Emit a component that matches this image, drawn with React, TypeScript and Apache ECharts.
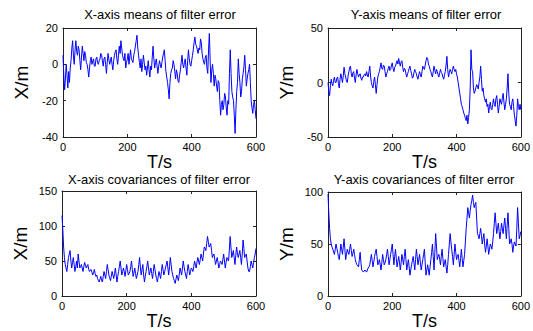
import React, { useEffect, useRef } from "react";
import * as echarts from "echarts";

// time step between samples (s)
const timeStep = 2.5;

const xMeans = [
  5, -6, -14, -8, 0, -6, -13, -4, -10, -2, 2, 9, 13, 4, 0, 8, 13, 7, 5, 10,
  8, 2, -3, 4, 10, 6, 2, 7, 5, 1, 0, -3, -7, -2, 2, 4, 0, 2, 3, -1,
  -1, 3, 4, 1, 0, 2, 3, 6, 5, 2, -1, 3, 4, 0, -5, 1, 6, 3, 0, 2,
  4, 0, -3, 2, 5, 7, 8, 3, 0, 5, 10, 6, 13, 9, 5, 3, 2, 6, -2, 1,
  3, 6, 0, 4, 8, 3, 2, 1, 5, 7, 10, 13, 16, 9, 5, 1, -2, 3, -4, 0,
  5, 1, -3, -1, -6, -2, 2, -3, -7, -1, -3, 4, 10, 3, -2, 1, 3, -1, -5, -1,
  2, 0, -2, 1, 4, 6, 8, 2, -4, -7, -10, -14, -19, -10, -5, -3, -2, 2, 0, -4,
  -8, -3, -5, -9, -10, -6, -3, 1, 5, 0, -2, 1, 3, -2, -6, 2, 8, 3, 0, -1,
  2, 5, 8, 12, 15, 11, 10, 8, 6, 9, 8, 14, 12, 6, 3, 1, 0, 4, 5, -2,
  -5, 8, 17, 2, -10, -3, 0, -5, -12, -6, -8, -12, -15, -9, -10, -20, -28, -22, -20, -25,
  -22, -16, -18, -24, -28, -20, -22, -5, 8, -5, -15, -18, -20, -28, -38, -25, -15, -10, 3, -5,
  -10, -18, -15, -8, -5, -1, 5, -3, -12, -8, -5, -3, 0, -10, -20, -24, -27, -22, -20, -25,
  -30,
];

const yMeans = [
  0, -8, -12, -3, 3, -1, -3, 2, 5, 0, 0, 4, 5, -1, -5, 3, 8, 4, 0, 6,
  14, 8, 5, 1, 0, 6, 10, 14, 15, 8, 5, 9, 10, 4, 0, 7, 12, 8, 5, 7,
  8, 4, 2, 5, 5, 7, 8, 6, 10, 7, 5, 10, 15, 6, 0, -3, -5, 1, 5, -2,
  -10, -2, 5, 8, 10, 14, 18, 13, 12, 16, 15, 10, 5, 8, 10, 13, 15, 11, 12, 16,
  18, 13, 10, 14, 15, 18, 20, 17, 22, 18, 15, 19, 20, 14, 10, 13, 12, 8, 5, 8,
  10, 13, 15, 11, 8, 4, 5, 9, 12, 10, 8, 5, 3, 7, 10, 7, 5, 10, 15, 13,
  12, 16, 20, 23, 22, 17, 15, 12, 10, 7, 5, 10, 15, 11, 8, 12, 10, 7, 5, 9,
  12, 9, 8, 5, 3, 7, 10, 16, 24, 12, 5, 9, 12, 10, 8, 12, 15, 12, 10, 12,
  8, 5, 0, -5, -10, -15, -20, -22, -25, -28, -30, -33, -35, -30, -38, -32, -25, -5, 30, 12,
  10, -5, -10, -8, -5, -2, -3, -6, 0, 5, 15, 3, -8, -5, -12, -15, -18, -15, -22, -20,
  -28, -22, -18, -24, -25, -20, -15, -20, -22, -15, -12, -20, -28, -22, -15, -18, -20, -14, -10, -18,
  -25, -20, -15, -5, 8, -10, -20, -22, -25, -18, -15, -22, -30, -35, -40, -30, -15, -22, -25, -20,
  -25,
];

const xCovs = [
  115, 95, 70, 55, 45, 40, 35, 45, 55, 60, 65, 50, 40, 48, 55, 45, 35, 42, 50, 40,
  60, 50, 40, 42, 45, 40, 35, 42, 48, 44, 40, 43, 45, 38, 35, 37, 38, 34, 30, 33,
  38, 32, 28, 30, 25, 22, 20, 24, 28, 22, 20, 28, 35, 30, 25, 35, 45, 38, 30, 26,
  22, 28, 35, 30, 25, 32, 40, 30, 20, 28, 35, 42, 50, 40, 30, 35, 40, 35, 28, 36,
  45, 38, 30, 32, 35, 42, 50, 38, 28, 33, 40, 32, 25, 30, 35, 45, 55, 40, 30, 38,
  45, 30, 20, 28, 35, 42, 50, 40, 30, 35, 40, 32, 25, 35, 45, 38, 30, 25, 20, 28,
  35, 30, 25, 35, 45, 38, 30, 35, 40, 45, 50, 40, 30, 42, 55, 45, 35, 30, 25, 22,
  18, 24, 30, 26, 22, 30, 40, 35, 30, 40, 50, 42, 35, 30, 25, 35, 45, 38, 30, 35,
  40, 38, 35, 42, 50, 45, 40, 48, 55, 50, 45, 52, 60, 55, 50, 60, 70, 68, 65, 75,
  85, 78, 70, 72, 75, 65, 55, 58, 60, 52, 45, 50, 55, 48, 40, 45, 50, 48, 45, 52,
  60, 50, 40, 48, 55, 52, 50, 65, 85, 70, 55, 60, 65, 55, 45, 58, 70, 62, 55, 60,
  65, 55, 45, 60, 80, 68, 55, 58, 60, 50, 40, 35, 35, 42, 50, 45, 40, 48, 55, 60,
  68,
];

const yCovs = [
  98, 80, 65, 55, 50, 47, 45, 42, 40, 45, 50, 46, 42, 38, 35, 42, 50, 45, 40, 47,
  55, 45, 35, 40, 45, 42, 40, 45, 50, 44, 38, 41, 45, 40, 35, 32, 30, 29, 28, 35,
  42, 32, 25, 24, 23, 24, 25, 24, 23, 25, 27, 28, 30, 35, 40, 34, 28, 33, 38, 42,
  45, 38, 30, 32, 35, 30, 25, 32, 40, 35, 30, 32, 35, 40, 45, 38, 30, 35, 40, 45,
  50, 40, 30, 38, 45, 36, 28, 33, 38, 32, 25, 32, 40, 35, 30, 38, 45, 35, 25, 30,
  35, 28, 20, 25, 30, 34, 38, 32, 25, 35, 45, 38, 30, 35, 40, 32, 25, 30, 35, 40,
  45, 32, 20, 25, 30, 25, 20, 28, 35, 42, 50, 38, 25, 42, 60, 48, 35, 38, 40, 35,
  30, 38, 45, 36, 28, 32, 35, 28, 22, 30, 40, 50, 60, 52, 45, 38, 30, 40, 50, 42,
  35, 38, 40, 34, 28, 36, 45, 36, 28, 34, 40, 52, 65, 75, 85, 80, 75, 82, 88, 92,
  97, 90, 85, 88, 90, 75, 60, 58, 55, 60, 65, 58, 50, 55, 60, 50, 42, 48, 55, 48,
  40, 45, 50, 48, 45, 52, 60, 70, 80, 70, 60, 65, 70, 62, 55, 62, 70, 65, 60, 68,
  75, 65, 55, 68, 80, 65, 50, 52, 55, 50, 42, 48, 52, 50, 48, 65, 85, 70, 55, 58,
  62,
];

const titles = [
  "X-axis means of filter error",
  "Y-axis means of filter error",
  "X-axis covariances of filter error",
  "Y-axis covariances of filter error",
];
const yNames = ["X/m", "Y/m", "X/m", "Y/m"];
const xName = "T/s";
const yRanges = [
  { min: -40, max: 20, interval: 20 },
  { min: -50, max: 50, interval: 50 },
  { min: 0, max: 150, interval: 50 },
  { min: 0, max: 100, interval: 50 },
];
const seriesValues = [xMeans, yMeans, xCovs, yCovs];

const grids = [
  { left: 63, top: 28, width: 193, height: 109 },
  { left: 328, top: 28, width: 194, height: 109 },
  { left: 62, top: 191, width: 194, height: 111 },
  { left: 328, top: 192, width: 194, height: 110 },
];
const titlePos = [
  { x: 160, y: 15 },
  { x: 426, y: 15 },
  { x: 159, y: 180 },
  { x: 424, y: 180 },
];

const FONT = "'Liberation Sans', Arial, Helvetica, sans-serif";

export default function App() {
  const ref = useRef<HTMLDivElement>(null);
  useEffect(() => {
    if (!ref.current) return;
    const chart = echarts.init(ref.current, undefined, { renderer: "svg" });
    const xAxes: any[] = [];
    const yAxes: any[] = [];
    const series: any[] = [];
    const axisLine = { show: true, onZero: false, lineStyle: { color: "#222", width: 1 } };
    const axisTick = { show: true, inside: true, length: 3, lineStyle: { color: "#222" } };
    grids.forEach((g, i) => {
      xAxes.push({
        type: "value", gridIndex: i, position: "bottom", min: 0, max: 600, interval: 200,
        axisLine, axisTick,
        axisLabel: { fontSize: 11, color: "#000", margin: 4, fontFamily: FONT },
        splitLine: { show: false },
        name: xName, nameLocation: "middle", nameGap: 16,
        nameTextStyle: { fontSize: 18, color: "#000", fontFamily: FONT },
      });
      xAxes.push({
        type: "value", gridIndex: i, position: "top", min: 0, max: 600, interval: 200,
        axisLine, axisTick, axisLabel: { show: false }, splitLine: { show: false },
      });
      const r = yRanges[i];
      yAxes.push({
        type: "value", gridIndex: i, position: "left", min: r.min, max: r.max, interval: r.interval,
        axisLine, axisTick,
        axisLabel: { fontSize: 11, color: "#000", margin: 5, fontFamily: FONT },
        splitLine: { show: false },
        name: yNames[i], nameLocation: "middle", nameGap: 32,
        nameTextStyle: { fontSize: 19, color: "#000", fontFamily: FONT },
      });
      yAxes.push({
        type: "value", gridIndex: i, position: "right", min: r.min, max: r.max, interval: r.interval,
        axisLine, axisTick, axisLabel: { show: false }, splitLine: { show: false },
      });
      series.push({
        type: "line",
        xAxisIndex: 2 * i,
        yAxisIndex: 2 * i,
        data: seriesValues[i].map((v, k) => [k * timeStep, v]),
        showSymbol: false,
        symbol: "none",
        lineStyle: { color: "#0000ff", width: 1 },
        itemStyle: { color: "#0000ff" },
      });
    });
    chart.setOption({
      animation: false,
      backgroundColor: "#fff",
      grid: grids.map((g) => ({ ...g, containLabel: false })),
      xAxis: xAxes,
      yAxis: yAxes,
      series,
      graphic: titles.map((t, i) => ({
        type: "text",
        x: titlePos[i].x,
        y: titlePos[i].y,
        scaleX: 1.08,
        style: {
          text: t,
          fontSize: 12,
          fontFamily: FONT,
          fill: "#000",
          textAlign: "center",
          textVerticalAlign: "middle",
        },
      })),
    });
    return () => chart.dispose();
  }, []);
  return (
    <div
      ref={ref}
      style={{ position: "fixed", left: 0, top: 0, width: 533, height: 331, background: "#fff" }}
    />
  );
}
